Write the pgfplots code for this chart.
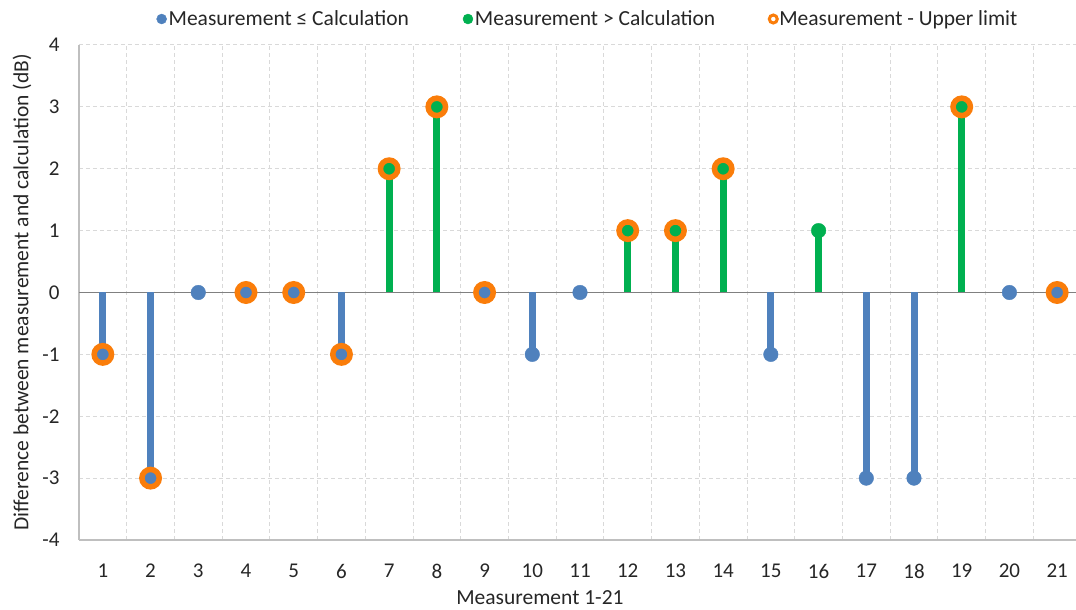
\documentclass[border=0pt]{standalone}
\usepackage{fontspec}
\setmainfont{Carlito}
\usepackage{pgfplots}
\pgfplotsset{compat=1.18}
\definecolor{cblue}{RGB}{79,129,189}
\definecolor{cgreen}{RGB}{0,176,80}
\definecolor{corange}{RGB}{250,125,10}
\definecolor{gridgray}{RGB}{217,217,217}
\definecolor{axgray}{RGB}{191,191,191}
\definecolor{zerogray}{RGB}{128,128,128}
\begin{document}
\begin{tikzpicture}
\begin{axis}[
  scale only axis, width=1002pt, height=495pt,
  xmin=0.5, xmax=21.5, ymin=-4, ymax=4,
  xtick={1,...,21}, minor xtick={1.5,2.5,...,20.5}, ytick={-4,-3,...,4},
  ymajorgrids, xminorgrids,
  major grid style={gridgray, line width=1pt, dash pattern=on 4pt off 3pt},
  minor grid style={gridgray, line width=1pt, dash pattern=on 4pt off 3pt},
  axis lines*=left, axis line style={axgray, line width=1.2pt, -},
  major tick length=0pt, minor tick length=0pt,
  /pgf/number format/assume math mode=true,
  tick label style={font=\fontsize{21}{25}\selectfont, text=black!85},
  yticklabel style={anchor=east, xshift=-16pt},
  xticklabel style={anchor=center, yshift=-31pt},
  xlabel={Measurement 1-21},
  ylabel={Difference between measurement and calculation (dB)},
  label style={font=\fontsize{21.5}{25}\selectfont, text=black!85},
  xlabel style={at={(axis description cs:0.46,0)}, anchor=center, yshift=-58pt},
  ylabel style={at={(axis description cs:-0.0569,0.5)}, anchor=center},
  legend columns=3,
  legend style={draw=none, fill=none, font=\fontsize{21.5}{25}\selectfont, text=black!85,
    at={(axis description cs:0.508,1.0525)}, anchor=center,
    /tikz/every even column/.append style={column sep=52pt}},
  legend cell align=left,
  clip=false,
]
\addlegendimage{only marks, mark=*, mark size=5pt, cblue}
\addlegendentry{Measurement ≤ Calculation}
\addlegendimage{only marks, mark=*, mark size=5pt, cgreen}
\addlegendentry{Measurement > Calculation}
\addlegendimage{only marks, mark=o, mark size=4pt, line width=3pt, corange}
\addlegendentry{Measurement - Upper limit}

% zero line
\addplot[zerogray, line width=1.3pt, forget plot] coordinates {(0.5,0) (21.5,0)};

% stems
\addplot[ycomb, cblue, line width=7pt, forget plot] coordinates {
(1,-1) (2,-3) (3,0) (4,0) (5,0) (6,-1) (9,0) (10,-1) (11,0) (15,-1) (17,-3) (18,-3) (20,0) (21,0)};
\addplot[ycomb, cgreen, line width=7pt, forget plot] coordinates {
(7,2) (8,3) (12,1) (13,1) (14,2) (16,1) (19,3)};

% dots
\addplot[only marks, mark=*, mark size=7.3pt, cblue, forget plot] coordinates {
(1,-1) (2,-3) (3,0) (4,0) (5,0) (6,-1) (9,0) (10,-1) (11,0) (15,-1) (17,-3) (18,-3) (20,0) (21,0)};
\addplot[only marks, mark=*, mark size=7.3pt, cgreen, forget plot] coordinates {
(7,2) (8,3) (12,1) (13,1) (14,2) (16,1) (19,3)};

% upper limit rings
\addplot[only marks, mark=o, mark size=8.7pt, line width=5.5pt, corange, forget plot] coordinates {
(1,-1) (2,-3) (4,0) (5,0) (6,-1) (7,2) (8,3) (9,0) (12,1) (13,1) (14,2) (19,3) (21,0)};
\end{axis}
\pgfresetboundingbox
\useasboundingbox (-79pt,-70pt) rectangle (997pt,540pt);
\end{tikzpicture}
\end{document}
